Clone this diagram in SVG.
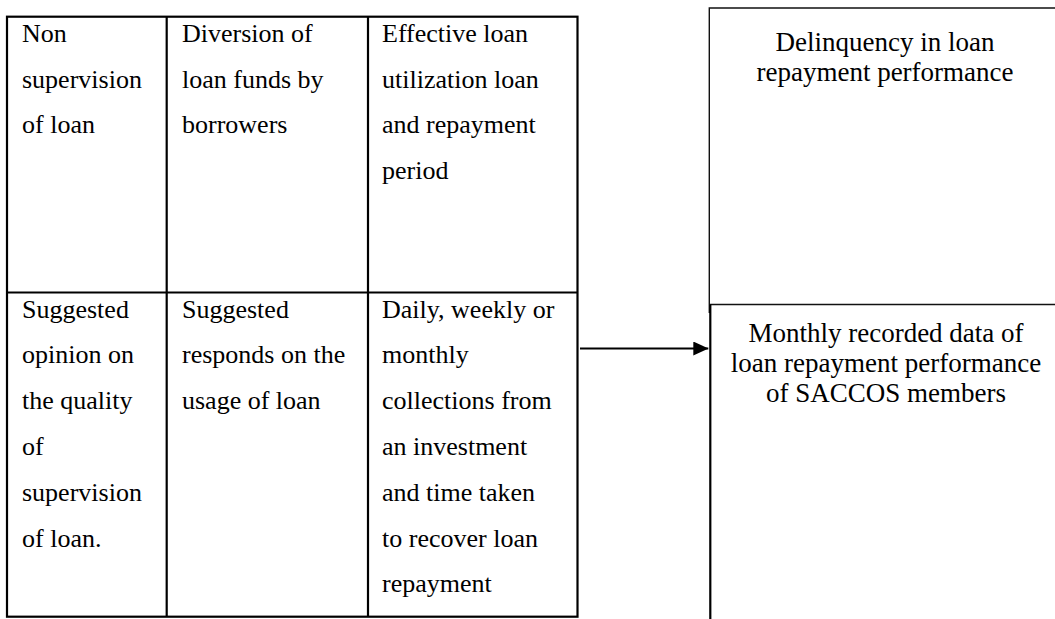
<svg xmlns="http://www.w3.org/2000/svg" width="1055" height="619" viewBox="0 0 1055 619">
<defs>
<style>
text{font-family:"Liberation Serif","Times New Roman",Times,"DejaVu Serif",serif;fill:#000}
.t{font-size:26px}
.r{font-size:27px;text-anchor:middle}
.ln{stroke:#000;stroke-width:2.2;fill:none}
.bx{stroke:#111;stroke-width:1.4;fill:none}
</style>
<marker id="ah" viewBox="0 0 15 14" refX="15" refY="7" markerWidth="15" markerHeight="14" markerUnits="userSpaceOnUse" orient="auto">
<path d="M0,0 L15,7 L0,14 z" fill="#000"/>
</marker>
</defs>
<rect width="1055" height="619" fill="#fff"/>
<g id="table">
<rect class="ln" x="7" y="16.7" width="570.5" height="600"/>
<line class="ln" x1="7" y1="292.5" x2="577.5" y2="292.5"/>
<line class="ln" x1="166.7" y1="16.7" x2="166.7" y2="616.7"/>
<line class="ln" x1="368" y1="16.7" x2="368" y2="616.7"/>
</g>
<g id="cell-non-supervision">
<text class="t" font-family="Liberation Serif, Times New Roman, serif"><tspan x="22" y="41.7">Non</tspan><tspan x="22" y="87.5">supervision</tspan><tspan x="22" y="133.3">of loan</tspan></text>
</g>
<g id="cell-diversion">
<text class="t" font-family="Liberation Serif, Times New Roman, serif"><tspan x="182" y="41.7">Diversion of</tspan><tspan x="182" y="87.5">loan funds by</tspan><tspan x="182" y="133.3">borrowers</tspan></text>
</g>
<g id="cell-effective">
<text class="t" font-family="Liberation Serif, Times New Roman, serif"><tspan x="382" y="41.7">Effective loan</tspan><tspan x="382" y="87.5">utilization loan</tspan><tspan x="382" y="133.3">and repayment</tspan><tspan x="382" y="179">period</tspan></text>
</g>
<g id="cell-suggested-opinion">
<text class="t" font-family="Liberation Serif, Times New Roman, serif"><tspan x="22" y="317.5">Suggested</tspan><tspan x="22" y="363.3">opinion on</tspan><tspan x="22" y="409.1">the quality</tspan><tspan x="22" y="454.9">of</tspan><tspan x="22" y="500.7">supervision</tspan><tspan x="22" y="546.5">of loan.</tspan></text>
</g>
<g id="cell-suggested-responds">
<text class="t" font-family="Liberation Serif, Times New Roman, serif"><tspan x="182" y="317.5">Suggested</tspan><tspan x="182" y="363.3">responds on the</tspan><tspan x="182" y="409.1">usage of loan</tspan></text>
</g>
<g id="cell-daily">
<text class="t" font-family="Liberation Serif, Times New Roman, serif"><tspan x="382" y="317.5">Daily, weekly or</tspan><tspan x="382" y="363.3">monthly</tspan><tspan x="382" y="409.1">collections from</tspan><tspan x="382" y="454.9">an investment</tspan><tspan x="382" y="500.7">and time taken</tspan><tspan x="382" y="546.5">to recover loan</tspan><tspan x="382" y="592.3">repayment</tspan></text>
</g>
<g id="box-delinquency">
<path class="bx" d="M1056,8 L709.3,8 L709.3,313"/>
<text class="r" font-family="Liberation Serif, Times New Roman, serif"><tspan x="885" y="50.5">Delinquency in loan</tspan><tspan x="885" y="80.5">repayment performance</tspan></text>
</g>
<g id="box-monthly">
<line class="bx" x1="709.3" y1="304.5" x2="1056" y2="304.5"/>
<line class="ln" x1="710.3" y1="304.5" x2="710.3" y2="620"/>
<text class="r" font-family="Liberation Serif, Times New Roman, serif"><tspan x="886" y="342">Monthly recorded data of</tspan><tspan x="886" y="372">loan repayment performance</tspan><tspan x="886" y="402">of SACCOS members</tspan></text>
</g>
<g id="connectors">
<line class="ln" x1="580" y1="348.5" x2="708.3" y2="348.5" marker-end="url(#ah)"/>
</g>
</svg>
